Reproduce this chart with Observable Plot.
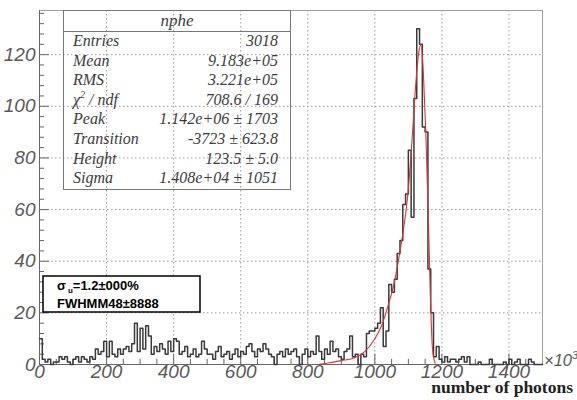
<!DOCTYPE html>
<html><head><meta charset="utf-8">
<script src="https://cdn.jsdelivr.net/npm/d3@7"></script>
<script src="https://cdn.jsdelivr.net/npm/@observablehq/plot@0.6"></script>
<style>
body{margin:0;background:#fff;}
#chart{position:relative;width:577px;height:400px;}
svg{overflow:visible;}
</style></head><body><div id="chart"></div>
<script>
// ---- data (x in units of 10^3 photons) ----
const xMin = 0, xMax = 1500, nBins = 180;
const counts = [
  10,2,1,2,0,1,1,3,2,3,1,0,2,3,1,3,2,1,3,2,
  6,4,5,9,3,9,4,3,6,4,6,7,5,8,16,5,14,6,15,11,
  4,7,5,8,6,4,9,5,10,9,4,5,7,3,4,6,3,4,9,6,
  4,4,2,5,7,3,4,5,2,4,6,3,5,4,7,8,5,3,6,5,
  8,6,4,3,0,4,5,3,6,4,5,6,3,0,4,6,3,5,4,11,
  5,2,6,4,9,5,6,3,2,5,6,11,3,4,0,4,3,12,13,13,
  14,16,22,7,13,31,28,33,43,48,62,66,83,57,103,130,124,92,90,37,
  20,3,7,2,1,3,1,2,2,1,2,3,1,3,0,0,0,1,0,0,
  0,2,0,0,0,0,1,0,2,0,1,2,0,0,0,2,1,0,0,0
];
// fit curve
const fitX = [830,860,900,940,970,1000,1020,1040,1060,1070,1085,1097,1110,1120,1130,1138,1145,1152,1160,1166,1172,1180];
const fitY = [0,0.6,1.5,2.6,5,10,15,23,33,40,52,64,85,105,120,124,112,90,55,25,6,0.5];
const xMajorTicks = [0,200,400,600,800,1000,1200,1400];
const xMinorTicks = [50,100,150,250,300,350,450,500,550,650,700,750,850,900,950,1050,1100,1150,1250,1300,1350,1450];
const yMajorTicks = [0,20,40,60,80,100,120];
const yMinorTicks = [4,8,12,16,24,28,32,36,44,48,52,56,64,68,72,76,84,88,92,96,104,108,112,116,124,128,132,136];
const yMax = 137.1;
const statsTitle = "nphe";
const statsLabels = ["Entries","Mean","RMS","χ2 / ndf","Peak","Transition","Height","Sigma"];
const statsValues = ["3018","9.183e+05","3.221e+05","708.6 / 169","1.142e+06 ± 1703","-3723 ± 623.8","123.5 ± 5.0","1.408e+04 ± 1051"];
const resLines = [["σ","u","=1.2±000%"],["FWHMM48±8888","",""]];
const xAxisTitle = "number of photons";
const xUnit = "×10";

// ---- build ----
const binW = (xMax - xMin) / nBins;
const hist = counts.map((c, i) => ({x: xMin + i * binW, y: c}));
hist.push({x: xMax, y: counts[counts.length - 1]});
const fit = fitX.map((x, i) => ({x, y: fitY[i]}));

const axisStyle = {fontSize: 19, fontStyle: "italic", fill: "#5a5a5a", tickSize: 0, tickFormat: d => String(d)};

const svg = Plot.plot({
  width: 577, height: 400,
  marginLeft: 39, marginRight: 35, marginTop: 10, marginBottom: 36,
  style: {fontFamily: "'Liberation Sans', Arial, sans-serif", background: "#fff", overflow: "visible"},
  x: {domain: [xMin, xMax], label: null},
  y: {domain: [0, yMax], label: null},
  marks: [
    Plot.gridX(xMajorTicks.filter(d => d > 0), {stroke: "#9a9a9a", strokeOpacity: 1, strokeDasharray: "1.5,2.5"}),
    Plot.gridY(yMajorTicks.filter(d => d > 0), {stroke: "#9a9a9a", strokeOpacity: 1, strokeDasharray: "1.5,2.5"}),
    Plot.frame({stroke: "#a0a0a0"}),
    Plot.ruleX(xMajorTicks, {y1: 0, y2: 4, stroke: "#666"}),
    Plot.ruleX(xMinorTicks, {y1: 0, y2: 2, stroke: "#666"}),
    Plot.ruleY(yMajorTicks, {x1: 0, x2: 30, stroke: "#666"}),
    Plot.ruleY(yMinorTicks, {x1: 0, x2: 15, stroke: "#666"}),
    Plot.ruleX([xMin], {stroke: "#666"}),
    Plot.ruleY([0], {stroke: "#666"}),
    Plot.line(hist, {x: "x", y: "y", curve: "step-after", stroke: "#3a3a3a", strokeWidth: 1.5}),
    Plot.line(fit, {x: "x", y: "y", curve: "monotone-x", stroke: "#d8343a", strokeWidth: 1.1}),
    Plot.axisY(yMajorTicks, {...axisStyle, anchor: "left", tickPadding: 4}),
    Plot.axisX(xMajorTicks, {...axisStyle, anchor: "bottom", tickPadding: 0})
  ]
});
document.getElementById("chart").appendChild(svg);

const s = d3.select(svg);
// stats box
const serif = "'Liberation Serif', 'Times New Roman', serif";
const sb = s.append("g").attr("font-family", serif).attr("font-style", "italic").attr("fill", "#3c3c3c").attr("font-size", 16).attr("text-anchor", "start");
sb.append("rect").attr("x", 63.5).attr("y", 10.5).attr("width", 227).attr("height", 179).attr("fill", "none").attr("stroke", "#777");
sb.append("line").attr("x1", 63.5).attr("x2", 290.5).attr("y1", 31.5).attr("y2", 31.5).attr("stroke", "#777");
sb.append("text").attr("x", 177).attr("y", 26).attr("text-anchor", "middle").attr("font-size", 17).text(statsTitle);
statsLabels.forEach((lab, k) => {
  const y = 46 + 19.6 * k;
  const t = sb.append("text").attr("x", 73).attr("y", y).attr("text-anchor", "start");
  if (lab.startsWith("χ2")) {
    t.append("tspan").text("χ");
    t.append("tspan").attr("dy", -7).attr("font-size", 10).text("2");
    t.append("tspan").attr("dy", 7).text(" / ndf");
  } else t.text(lab);
  sb.append("text").attr("x", 278).attr("y", y).attr("text-anchor", "end").text(statsValues[k]);
});

// resolution box
const rb = s.append("g").attr("font-family", "'Liberation Sans', Arial, sans-serif").attr("font-weight", "bold").attr("font-size", 13).attr("fill", "#000").attr("text-anchor", "start");
rb.append("rect").attr("x", 43).attr("y", 276).attr("width", 157).attr("height", 36).attr("fill", "#fff").attr("stroke", "#000").attr("stroke-width", 1.5);
resLines.forEach((ln, k) => {
  const t = rb.append("text").attr("x", 57).attr("y", 290 + 18 * k).attr("text-anchor", "start");
  t.append("tspan").text(ln[0]);
  if (ln[1]) {
    t.append("tspan").attr("dx", 2).attr("dy", 3).attr("font-size", 8).text(ln[1]);
    t.append("tspan").attr("dy", -3).text(ln[2]);
  }
});

// x unit and axis title
const u = s.append("text").attr("x", 544).attr("y", 366).attr("text-anchor", "start").attr("font-family", "'Liberation Sans', Arial, sans-serif")
  .attr("font-style", "italic").attr("font-size", 16.5).attr("fill", "#5a5a5a");
u.append("tspan").text(xUnit);
u.append("tspan").attr("dy", -7).attr("font-size", 11).text("3");
s.append("text").attr("x", 573).attr("y", 393).attr("text-anchor", "end").attr("font-family", serif)
  .attr("font-weight", "bold").attr("font-size", 17.5).attr("fill", "#222").text(xAxisTitle);
</script></body></html>
